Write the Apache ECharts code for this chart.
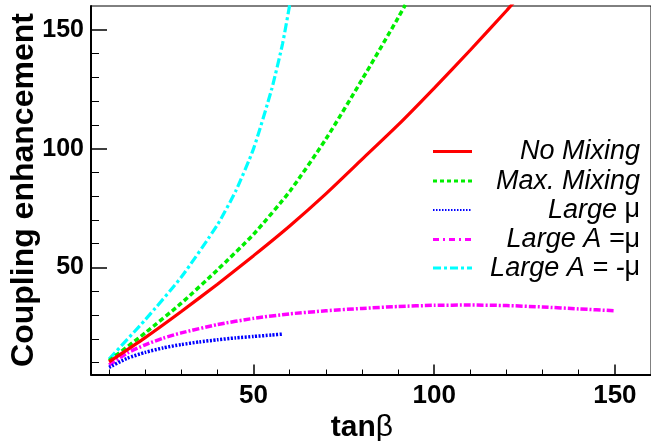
<!DOCTYPE html>
<html><head><meta charset="utf-8">
<script src="https://cdn.jsdelivr.net/npm/echarts@6/dist/echarts.min.js"></script>
<style>html,body{margin:0;padding:0;background:#fff}#c{width:651px;height:441px}</style>
</head><body><div id="c"></div>
<script>
// ---- data ----
const noMixX   = [10, 20, 30, 40, 50, 60, 70, 80, 90, 100, 110, 120, 122];
const noMixY   = [10.3, 20.5, 31.5, 43, 55, 67.5, 81, 95.5, 110, 125.5, 141.5, 158, 161.5];
const maxMixX  = [10, 20, 30, 40, 50, 60, 70, 80, 90, 92];
const maxMixY  = [10.8, 22.5, 35, 49, 64, 82, 104, 129, 155, 160.5];
const largeMuX = [10, 15, 20, 25, 30, 35, 40, 45, 50, 55, 58];
const largeMuY = [8, 11.8, 14.3, 16.2, 17.6, 18.7, 19.6, 20.4, 21, 21.6, 22];
const aPlusMuX = [10, 15, 20, 25, 30, 40, 50, 60, 70, 80, 90, 100, 110, 120, 130, 140, 150];
const aPlusMuY = [9, 14, 17.5, 20.3, 22.5, 26, 28.6, 30.5, 31.8, 32.8, 33.6, 34.1, 34.2, 34.0, 33.4, 32.6, 31.8];
const aMinusMuX = [10, 20, 30, 40, 45, 50, 55, 58, 60];
const aMinusMuY = [11.5, 28, 46, 68, 82, 100, 125, 144, 160.5];
const majorTicks = [50, 100, 150];
const xMinorTicks = [10, 20, 30, 40, 60, 70, 80, 90, 110, 120, 130, 140];
const yMinorTicks = [10, 20, 30, 40, 60, 70, 80, 90, 110, 120, 130, 140];
const seriesNames = ['No Mixing', 'Max. Mixing', 'Large \u03bc', 'Large A =\u03bc', 'Large A = -\u03bc'];
const seriesColors = ['#ff0000', '#00ee00', '#0000ff', '#ff00ff', '#00ffff'];

const FONT = '"Liberation Sans", Arial, Helvetica, sans-serif';
const zip = (xs, ys) => xs.map((x, i) => [x, ys[i]]);
const allX = [noMixX, maxMixX, largeMuX, aPlusMuX, aMinusMuX];
const allY = [noMixY, maxMixY, largeMuY, aPlusMuY, aMinusMuY];
const dashes = ['solid', [5, 3], [2, 1.5], [7, 2, 2, 2], [9, 3, 3, 3]];
const widths = [3.2, 3.5, 3.5, 3.5, 3.2];

const chart = echarts.init(document.getElementById('c'), null, {renderer: 'canvas'});

const series = seriesNames.map((n, i) => ({
  name: n, type: 'line', xAxisIndex: 0, yAxisIndex: 0,
  data: zip(allX[i], allY[i]),
  showSymbol: false, symbol: 'none', smooth: 0.2,
  clip: true,
  lineStyle: {color: seriesColors[i], width: widths[i], type: dashes[i]},
  itemStyle: {color: seriesColors[i]},
  z: 10 - i
}));

const legendRowsY = [151.5, 181, 210, 239.5, 268];
const legendTexts = [
  '{i|No Mixing}',
  '{i|Max. Mixing}',
  '{i|Large }{n|\u03bc}',
  '{i|Large A =}{n|\u03bc}',
  '{i|Large A = -}{n|\u03bc}'
];
const legendDash = [null, [4, 3], [1.5, 1.5], [6, 4, 2, 4], [8, 3, 3, 3]];
const graphics = [];
legendRowsY.forEach((y, i) => {
  graphics.push({
    type: 'line', shape: {x1: 433, y1: y, x2: 472, y2: y},
    style: {stroke: seriesColors[i], lineWidth: i === 2 ? 2 : 3, lineDash: legendDash[i]}, z: 100
  });
  graphics.push({
    type: 'text', x: 640, y: y, z: 100,
    style: {
      text: legendTexts[i], align: 'right', verticalAlign: 'middle', fill: '#000',
      rich: {
        i: {fontFamily: FONT, fontSize: 27, fontStyle: 'italic', fill: '#000'},
        n: {fontFamily: FONT, fontSize: 27, fill: '#000'}
      }
    }
  });
});
graphics.push({
  type: 'text', x: 24, y: 190, rotation: Math.PI / 2, z: 100,
  style: {text: 'Coupling enhancement', fontFamily: FONT, fontSize: 32, fontWeight: 'bold',
    fill: '#000', align: 'center', verticalAlign: 'middle'}
});
graphics.push({
  type: 'text', x: 362, y: 428, z: 100,
  style: {text: '{a|tan}{b|\u03b2}', align: 'center', verticalAlign: 'middle', fill: '#000',
    rich: {a: {fontFamily: FONT, fontSize: 30, fontWeight: 'bold', fill: '#000'},
           b: {fontFamily: FONT, fontSize: 30, fill: '#000'}}}
});

const xBase = {type: 'value', min: 5, max: 160, gridIndex: 0, position: 'bottom', splitLine: {show: false}};
const yBase = {type: 'value', min: 5, max: 160, gridIndex: 0, position: 'left', splitLine: {show: false}};

chart.setOption({
  animation: false,
  backgroundColor: '#fff',
  grid: {left: 91, top: 6, width: 566, height: 368.5, show: true, borderColor: '#000', borderWidth: 1, backgroundColor: 'transparent'},
  xAxis: [
    Object.assign({}, xBase, {
      axisLine: {show: true, lineStyle: {color: '#000', width: 2}},
      axisTick: {show: true, inside: true, length: 10, customValues: majorTicks, lineStyle: {color: '#000', width: 1.5}},
      axisLabel: {show: true, customValues: majorTicks, margin: 8, color: '#000', fontFamily: FONT, fontSize: 26, fontWeight: 'bold'}
    }),
    Object.assign({}, xBase, {
      axisLine: {show: false},
      axisTick: {show: true, inside: true, length: 5, customValues: xMinorTicks, lineStyle: {color: '#000', width: 1}},
      axisLabel: {show: false}
    })
  ],
  yAxis: [
    Object.assign({}, yBase, {
      axisLine: {show: true, lineStyle: {color: '#000', width: 2}},
      axisTick: {show: true, inside: true, length: 16, customValues: majorTicks, lineStyle: {color: '#000', width: 1.5}},
      axisLabel: {show: true, customValues: majorTicks, margin: 7, color: '#000', fontFamily: FONT, fontSize: 25, fontWeight: 'bold'}
    }),
    Object.assign({}, yBase, {
      axisLine: {show: false},
      axisTick: {show: true, inside: true, length: 8, customValues: yMinorTicks, lineStyle: {color: '#000', width: 1}},
      axisLabel: {show: false}
    })
  ],
  legend: {show: false, data: seriesNames},
  series: series,
  graphic: graphics
});
</script>
</body></html>
